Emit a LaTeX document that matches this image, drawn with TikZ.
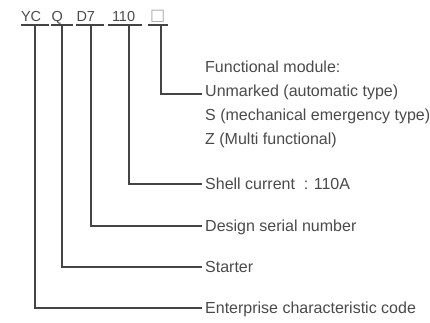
\documentclass[tikz,border=0pt]{standalone}
\usepackage{fontspec}
\setmainfont{Liberation Sans}
\newfontfamily\symfont{DejaVu Sans}
\usetikzlibrary{positioning}

\definecolor{linegray}{HTML}{444444}
\definecolor{textgray}{HTML}{4A4A4A}

\tikzset{
    code/.style={inner sep=0pt, anchor=south, text height=10.5pt, text depth=3.3pt,
        align=left, font=\fontsize{14.5}{16}\selectfont, text=textgray},
    lab/.style={inner xsep=3pt, inner ysep=0pt, anchor=west, text height=12pt,
        text depth=1pt, font=\fontsize{16}{18}\selectfont, text=textgray},
    conn/.style={draw=linegray, line width=1.1pt}
}

\begin{document}
\begin{tikzpicture}[x=1pt,y=-1pt]
\useasboundingbox (0,0) rectangle (430,322);

\node[code, text width=28pt] (c1) at (35,25) {YC};
\node[code, text width=22pt] (c2) at (62,25) {\hspace{0.5pt}Q};
\node[code, text width=28pt] (c3) at (90,25) {\hspace{0.5pt}D7};
\node[code, text width=34pt] (c4) at (125,25) {\hspace{4pt}110};
\node[code, text width=20pt] (c5) at (158,25) {\hspace{2pt}\raisebox{1.5pt}{\textcolor{gray!70}{\symfont\fontsize{16}{16}\selectfont □}}};

\foreach \c in {c1,c2,c3,c4,c5}
    \draw[conn] (\c.south west) -- (\c.south east);

\node[lab] (f0) at (202,67) {Functional module:};
\node[lab] (f1) at (202,91) {Unmarked (automatic type)};
\node[lab] (f2) at (202,115) {S (mechanical emergency type)};
\node[lab] (f3) at (202,139) {Z (Multi functional)};

\node[lab] (t4) at (202,184) {Shell current\hspace{0.55em}:\hspace{0.35em}110A};
\node[lab] (t3) at (202,226) {Design serial number};
\node[lab] (t2) at (202,267) {Starter};
\node[lab] (t1) at (202,308) {Enterprise characteristic code};

\draw[conn] ([xshift=3pt]c5.south) |- ([yshift=-3pt]f1.west);
\draw[conn] ([xshift=4pt]c4.south) |- (t4.west);
\draw[conn] ([xshift=1pt]c3.south) |- (t3.west);
\draw[conn] (c2.south) |- (t2.west);
\draw[conn] (c1.south) |- (t1.west);

\end{tikzpicture}
\end{document}
